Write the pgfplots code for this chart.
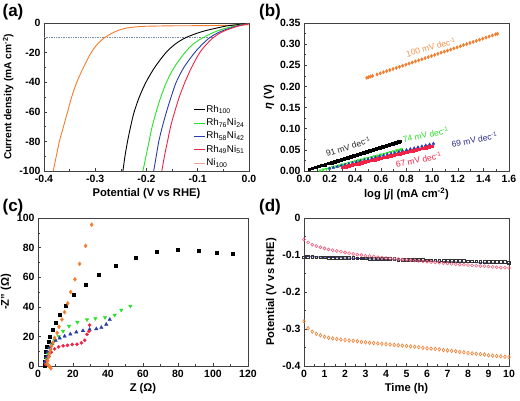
\documentclass[border=0pt]{standalone}
\usepackage{pgfplots}
\pgfplotsset{compat=1.18}
\usepackage{fontspec}
\setmainfont{Liberation Sans}
\definecolor{cOr}{RGB}{242,125,45}
\definecolor{cSal}{RGB}{245,160,150}
\definecolor{cGr}{RGB}{40,225,40}
\definecolor{cBl}{RGB}{40,60,175}
\definecolor{cRd}{RGB}{240,35,70}
\definecolor{cPk}{RGB}{245,95,125}
\definecolor{cNv}{RGB}{40,40,140}
\definecolor{cDot}{RGB}{120,140,165}
\pgfplotsset{
  panel/.style={
    scale only axis, height=148pt,
    axis line style={line width=0.6pt, black!75},
    tick pos=left, tick align=inside,
    major tick length=3pt, minor tick length=1.6pt,
    tick style={black!75, line width=0.5pt},
    minor tick num=1,
    ticklabel style={font=\bfseries\fontsize{10.5}{11}\selectfont},
    xticklabel style={yshift=-0.5pt},
    label style={font=\bfseries\fontsize{11.2}{12}\selectfont},
    xlabel style={yshift=1pt},
    ylabel style={yshift=-1pt},
    /pgf/number format/assume math mode=true,
  }
}
\begin{document}
\begin{tikzpicture}
\path[use as bounding box] (0pt,0pt) rectangle (520pt,-401pt);

% ---------------- (a)
\begin{axis}[panel, width=205pt, at={(44pt,-23pt)}, anchor=north west,
  xmin=-0.4, xmax=0, ymin=-100, ymax=0,
  xtick={-0.4,-0.3,-0.2,-0.1,0},
  ytick={-100,-80,-60,-40,-20,0},
  xticklabel style={/pgf/number format/.cd, fixed, fixed zerofill, precision=1},
  xlabel={Potential (V vs RHE)},
  ylabel={Current density (mA cm\textsuperscript{-2})},
  ylabel style={font=\bfseries\fontsize{10.2}{11}\selectfont},
  legend style={at={(rel axis cs:0.728,0.455)}, anchor=north west, draw=none, fill=none,
    font=\fontsize{9.8}{10}\selectfont, inner sep=0pt, row sep=1.2pt,
    nodes={inner sep=1pt, text height=7.5pt, text depth=2.6pt}},
  legend cell align=left,
  legend image code/.code={\draw[#1] (0pt,0pt) -- (11pt,0pt);},
]
\addplot[cDot, densely dotted, line width=0.7pt, forget plot] coordinates {(-0.4,-10) (-0.07,-10)};
\addplot[cOr, line width=0.9pt, smooth, forget plot] coordinates {
(-0.382,-100) (-0.376,-90) (-0.370,-80) (-0.362,-70) (-0.354,-60) (-0.346,-50) (-0.336,-40)
(-0.323,-30) (-0.308,-20) (-0.295,-14) (-0.282,-10) (-0.268,-7) (-0.255,-5) (-0.240,-3.5)
(-0.220,-2.6) (-0.200,-2.2) (-0.150,-1.9) (-0.100,-1.8) (-0.050,-1.6) (0,-1.2)};
\addplot[cBl, line width=0.9pt, forget plot] coordinates {(-0.186,-100) (0,-100)};
\addplot[black, line width=0.9pt, smooth] coordinates {
(-0.246,-100) (-0.242,-90) (-0.237,-80) (-0.231,-70) (-0.224,-60) (-0.214,-50) (-0.201,-40)
(-0.184,-30) (-0.162,-20) (-0.143,-14) (-0.124,-10) (-0.102,-7) (-0.083,-5) (-0.060,-3.2)
(-0.044,-2) (-0.025,-1.2) (-0.010,-0.6) (0,-0.3)};
\addlegendentry{Rh\textsubscript{100}}
\addplot[cGr, line width=0.9pt, smooth] coordinates {
(-0.207,-100) (-0.201,-90) (-0.195,-80) (-0.189,-70) (-0.181,-60) (-0.172,-50) (-0.161,-40)
(-0.146,-30) (-0.125,-20) (-0.108,-14) (-0.090,-10) (-0.070,-6.5) (-0.050,-4) (-0.030,-2.2)
(-0.015,-1.2) (0,-0.4)};
\addlegendentry{Rh\textsubscript{76}Ni\textsubscript{24}}
\addplot[cBl, line width=0.9pt, smooth] coordinates {
(-0.186,-100) (-0.181,-90) (-0.176,-80) (-0.169,-70) (-0.161,-60) (-0.152,-50) (-0.142,-40)
(-0.127,-30) (-0.106,-20) (-0.090,-14) (-0.077,-10) (-0.060,-6.5) (-0.042,-4) (-0.025,-2.2)
(-0.012,-1.2) (0,-0.4)};
\addlegendentry{Rh\textsubscript{58}Ni\textsubscript{42}}
\addplot[cRd, line width=0.9pt, smooth] coordinates {
(-0.170,-100) (-0.165,-90) (-0.159,-80) (-0.153,-70) (-0.145,-60) (-0.136,-50) (-0.125,-40)
(-0.112,-30) (-0.096,-20) (-0.082,-14) (-0.070,-10) (-0.055,-6.5) (-0.038,-4) (-0.022,-2.2)
(-0.010,-1.2) (0,-0.4)};
\addlegendentry{Rh\textsubscript{49}Ni\textsubscript{51}}
\addlegendimage{cSal, line width=0.9pt}
\addlegendentry{Ni\textsubscript{100}}
\end{axis}

% ---------------- (b)
\begin{axis}[panel, width=205pt, at={(304pt,-23pt)}, anchor=north west,
  xmin=0, xmax=1.6, ymin=0, ymax=0.35,
  xtick={0,0.2,...,1.6},
  ytick={0,0.05,...,0.35},
  xticklabel style={/pgf/number format/.cd, fixed, fixed zerofill, precision=1},
  yticklabel style={/pgf/number format/.cd, fixed, fixed zerofill, precision=2},
  xlabel={log |\textit{j}| (mA cm\textsuperscript{-2})},
  ylabel={\textit{η} (V)},
]
\addplot[only marks, mark=square*, mark size=1.3pt, black] coordinates {
(0.04,0.0040) (0.065,0.0063) (0.09,0.0087) (0.115,0.0110) (0.14,0.0133) (0.165,0.0156)
(0.19,0.0180) (0.215,0.0203) (0.24,0.0226) (0.265,0.0249) (0.29,0.0273) (0.315,0.0296)
(0.34,0.0319) (0.365,0.0342) (0.39,0.0366) (0.415,0.0389) (0.44,0.0412) (0.465,0.0435)
(0.49,0.0459) (0.515,0.0482) (0.54,0.0505) (0.565,0.0528) (0.59,0.0552) (0.615,0.0575)
(0.64,0.0598) (0.665,0.0621) (0.69,0.0645) (0.715,0.0668) (0.74,0.0691) (0.75,0.0700)};
\addplot[only marks, mark=triangle*, mark options={rotate=180}, mark size=1.6pt, cGr] coordinates {
(0.10,-0.001) (0.125,0.001) (0.15,0.003) (0.175,0.005) (0.20,0.007) (0.225,0.009)
(0.25,0.011) (0.275,0.013) (0.30,0.015) (0.325,0.017) (0.35,0.019) (0.375,0.021)
(0.40,0.023) (0.425,0.025) (0.45,0.027) (0.475,0.029) (0.50,0.0305) (0.525,0.0325)
(0.55,0.0345) (0.575,0.0365) (0.60,0.0385) (0.625,0.0405) (0.65,0.0425) (0.675,0.0445)
(0.70,0.0465) (0.725,0.0485) (0.75,0.050) (0.76,0.051)};
\addplot[only marks, mark=triangle*, mark size=1.6pt, cBl] coordinates {
(0.20,0.0060) (0.23,0.0082) (0.26,0.0104) (0.29,0.0126) (0.32,0.0147) (0.35,0.0169)
(0.38,0.0191) (0.41,0.0213) (0.44,0.0235) (0.47,0.0257) (0.50,0.0278) (0.53,0.0300)
(0.56,0.0322) (0.59,0.0344) (0.62,0.0366) (0.65,0.0388) (0.68,0.0409) (0.71,0.0431)
(0.74,0.0453) (0.77,0.0475) (0.80,0.0497) (0.83,0.0519) (0.86,0.0540) (0.89,0.0562)
(0.92,0.0584) (0.95,0.0606) (0.98,0.0628) (1.01,0.0650)};
\addplot[only marks, mark=square*, mark size=1.3pt, cRd] coordinates {
(0.300,0.0090) (0.325,0.0108) (0.350,0.0126) (0.375,0.0144) (0.400,0.0161) (0.425,0.0179)
(0.450,0.0197) (0.475,0.0215) (0.500,0.0233) (0.525,0.0251) (0.550,0.0269) (0.575,0.0286)
(0.600,0.0304) (0.625,0.0322) (0.650,0.0340) (0.675,0.0358) (0.700,0.0376) (0.725,0.0394)
(0.750,0.0411) (0.775,0.0429) (0.800,0.0447) (0.825,0.0465) (0.850,0.0483) (0.875,0.0501)
(0.900,0.0519) (0.925,0.0536) (0.950,0.0554) (0.975,0.0572) (1.000,0.0590)};
\addplot[only marks, mark=diamond*, mark size=1.7pt, cOr] coordinates {
(0.49,0.2205) (0.505,0.2220) (0.52,0.2235) (0.535,0.2250) (0.57,0.2285) (0.595,0.2310)
(0.62,0.2336) (0.645,0.2362) (0.67,0.2387) (0.695,0.2413) (0.72,0.2438) (0.745,0.2464)
(0.77,0.2490) (0.795,0.2515) (0.82,0.2541) (0.845,0.2566) (0.87,0.2592) (0.895,0.2617)
(0.92,0.2643) (0.945,0.2669) (0.97,0.2694) (0.995,0.2720) (1.02,0.2745) (1.045,0.2771)
(1.07,0.2797) (1.095,0.2822) (1.12,0.2848) (1.145,0.2873) (1.17,0.2899) (1.195,0.2925)
(1.22,0.2950) (1.245,0.2976) (1.27,0.3001) (1.295,0.3027) (1.32,0.3052) (1.345,0.3078)
(1.37,0.3104) (1.395,0.3129) (1.42,0.3155) (1.445,0.3180) (1.47,0.3206) (1.495,0.3232)
(1.51,0.3247)};
\node[rotate=15, text=cOr!85, font=\fontsize{8.5}{9}\selectfont] at (axis cs:0.99,0.293) {100 mV dec\textsuperscript{-1}};
\node[rotate=17, text=black!85, font=\fontsize{8.5}{9}\selectfont] at (axis cs:0.345,0.058) {91 mV dec\textsuperscript{-1}};
\node[rotate=11, text=cGr, font=\fontsize{8.5}{9}\selectfont] at (axis cs:0.95,0.086) {74 mV dec\textsuperscript{-1}};
\node[rotate=11, text=cNv, font=\fontsize{8.5}{9}\selectfont] at (axis cs:1.33,0.074) {69 mV dec\textsuperscript{-1}};
\node[rotate=12, text=cRd, font=\fontsize{8.5}{9}\selectfont] at (axis cs:0.895,0.027) {67 mV dec\textsuperscript{-1}};
\end{axis}

% ---------------- (c)
\begin{axis}[panel, width=210pt, at={(38pt,-218pt)}, anchor=north west,
  xmin=0, xmax=120, ymin=0, ymax=100,
  xtick={0,20,...,120}, ytick={0,20,...,100},
  xlabel={Z (Ω)},
  ylabel={-Z" (Ω)},
  clip=false,
]
\addplot[only marks, mark=square*, mark size=1.5pt, black] coordinates {
(111.4,75.6) (102.3,76.7) (92.0,77.8) (80.0,78.5) (67.6,76.9) (55.6,73.5) (44.6,68.1)
(34.7,62.0) (27.0,55.0) (20.2,48.0) (15.6,40.7) (12.4,34.6) (9.9,29.2) (8.2,24.7)
(6.7,20.1) (5.9,16.7) (5.1,12.9) (4.6,9.5) (4.2,6.1) (3.8,2.7) (3.6,0.5)};
\addplot[only marks, mark=triangle*, mark options={rotate=180}, mark size=2pt, cGr] coordinates {
(52.8,40.5) (47.6,37.8) (43.8,34.4) (38.3,32.8) (32.8,32.1) (28.0,31.4) (22.5,29.6)
(17.7,26.9) (14.3,23.5) (11.8,20.1) (9.5,17.4) (8.0,14.7) (6.7,11.8) (5.7,8.4)
(4.8,5.0) (4.2,1.6)};
\addplot[only marks, mark=triangle*, mark size=2pt, cBl] coordinates {
(41.0,31.4) (39.0,28.1) (36.2,26.0) (33.3,25.1) (29.5,24.7) (25.7,23.8) (21.9,22.9)
(18.5,21.5) (15.2,20.1) (12.4,18.8) (10.1,17.2) (8.2,15.2) (6.7,12.4) (5.5,9.5)
(4.8,6.1) (4.0,2.7)};
\addplot[only marks, mark=*, mark size=1.6pt, cRd] coordinates {
(29.5,27.6) (29.1,23.5) (28.0,21.5) (26.7,17.4) (24.8,15.6) (22.3,14.7) (19.6,14.5)
(16.8,14.0) (14.3,13.6) (11.8,12.9) (9.5,11.5) (7.6,9.3) (6.3,6.6) (5.1,3.8) (4.4,1.1)};
\addplot[only marks, mark=diamond*, mark size=2pt, cOr] coordinates {
(30.7,95.5) (27.2,81.2) (23.8,69.0) (21.1,58.6) (18.7,50.0) (17.0,42.3) (15.2,36.4)
(13.7,31.4) (12.0,26.5) (10.9,22.4) (9.5,19.0) (8.6,15.8) (7.8,13.5) (7.2,11.0)
(6.6,8.5) (6.1,6.0) (5.6,3.5) (5.2,1.5) (6.2,0.2) (7.0,-0.8) (7.4,-1.6)};
\end{axis}

% ---------------- (d)
\begin{axis}[panel, width=205pt, at={(304pt,-218pt)}, anchor=north west,
  xmin=0, xmax=10, ymin=-0.4, ymax=0,
  xtick={0,1,...,10}, ytick={-0.4,-0.3,-0.2,-0.1,0},
  yticklabel style={/pgf/number format/.cd, fixed, precision=1},
  xlabel={Time (h)},
  ylabel={Potential (V vs RHE)},
]
\addplot[cNv, line width=0.8pt] coordinates {
(0,-0.104) (2,-0.108) (4,-0.112) (6,-0.116) (8,-0.120) (10,-0.123)};
\addplot[only marks, mark=square, mark size=1.4pt, mark options={line width=0.5pt}, black!80] coordinates {
(0,-0.106) (0.2,-0.105) (0.4,-0.105) (0.6,-0.106) (0.8,-0.106) (1.0,-0.106) (1.2,-0.107)
(1.4,-0.107) (1.6,-0.107) (1.8,-0.108) (2.0,-0.108) (2.2,-0.108) (2.4,-0.108) (2.6,-0.109)
(2.8,-0.109) (3.0,-0.109) (3.2,-0.110) (3.4,-0.110) (3.6,-0.110) (3.8,-0.111) (4.0,-0.111)
(4.2,-0.111) (4.4,-0.111) (4.6,-0.112) (4.8,-0.112) (5.0,-0.112) (5.2,-0.113) (5.4,-0.113)
(5.6,-0.113) (5.8,-0.113) (6.0,-0.114) (6.2,-0.114) (6.4,-0.114) (6.6,-0.115) (6.8,-0.115)
(7.0,-0.115) (7.2,-0.116) (7.4,-0.116) (7.6,-0.116) (7.8,-0.116) (8.0,-0.117) (8.2,-0.117)
(8.4,-0.117) (8.6,-0.118) (8.8,-0.118) (9.0,-0.118) (9.2,-0.118) (9.4,-0.119) (9.6,-0.119)
(9.8,-0.119) (10.0,-0.120)};
\addplot[only marks, mark=o, mark size=1.5pt, mark options={line width=0.6pt}, cPk] coordinates {
(0,-0.058) (0.2,-0.066) (0.4,-0.072) (0.6,-0.076) (0.8,-0.079) (1.0,-0.082) (1.2,-0.085)
(1.4,-0.087) (1.6,-0.089) (1.8,-0.091) (2.0,-0.093) (2.2,-0.095) (2.4,-0.097) (2.6,-0.099)
(2.8,-0.100) (3.0,-0.102) (3.2,-0.103) (3.4,-0.104) (3.6,-0.106) (3.8,-0.107) (4.0,-0.108)
(4.2,-0.109) (4.4,-0.110) (4.6,-0.111) (4.8,-0.112) (5.0,-0.113) (5.2,-0.114) (5.4,-0.115)
(5.6,-0.116) (5.8,-0.117) (6.0,-0.118) (6.2,-0.119) (6.4,-0.120) (6.6,-0.121) (6.8,-0.122)
(7.0,-0.123) (7.2,-0.124) (7.4,-0.125) (7.6,-0.126) (7.8,-0.126) (8.0,-0.127) (8.2,-0.128)
(8.4,-0.129) (8.6,-0.130) (8.8,-0.130) (9.0,-0.131) (9.2,-0.132) (9.4,-0.133) (9.6,-0.134)
(9.8,-0.134) (10.0,-0.135)};
\addplot[only marks, mark=diamond, mark size=1.8pt, mark options={line width=0.6pt}, cOr] coordinates {
(0,-0.279) (0.2,-0.298) (0.4,-0.307) (0.6,-0.313) (0.8,-0.317) (1.0,-0.321) (1.2,-0.3235)
(1.4,-0.3255) (1.6,-0.327) (1.8,-0.3285) (2.0,-0.330) (2.2,-0.331) (2.4,-0.332) (2.6,-0.333)
(2.8,-0.335) (3.0,-0.336) (3.2,-0.337) (3.4,-0.338) (3.6,-0.339) (3.8,-0.340) (4.0,-0.341)
(4.2,-0.342) (4.4,-0.343) (4.6,-0.344) (4.8,-0.345) (5.0,-0.346) (5.2,-0.347) (5.4,-0.348)
(5.6,-0.349) (5.8,-0.351) (6.0,-0.352) (6.2,-0.353) (6.4,-0.354) (6.6,-0.355) (6.8,-0.357)
(7.0,-0.358) (7.2,-0.359) (7.4,-0.360) (7.6,-0.362) (7.8,-0.363) (8.0,-0.365) (8.2,-0.366)
(8.4,-0.367) (8.6,-0.368) (8.8,-0.369) (9.0,-0.371) (9.2,-0.372) (9.4,-0.373) (9.6,-0.374)
(9.8,-0.375) (10.0,-0.376)};
\end{axis}

% panel labels
\node[font=\bfseries\fontsize{17}{18}\selectfont] at (13pt,-12pt) {(a)};
\node[font=\bfseries\fontsize{17}{18}\selectfont] at (270pt,-12pt) {(b)};
\node[font=\bfseries\fontsize{17}{18}\selectfont] at (13pt,-207pt) {(c)};
\node[font=\bfseries\fontsize{17}{18}\selectfont] at (270pt,-207pt) {(d)};
\end{tikzpicture}
\end{document}
